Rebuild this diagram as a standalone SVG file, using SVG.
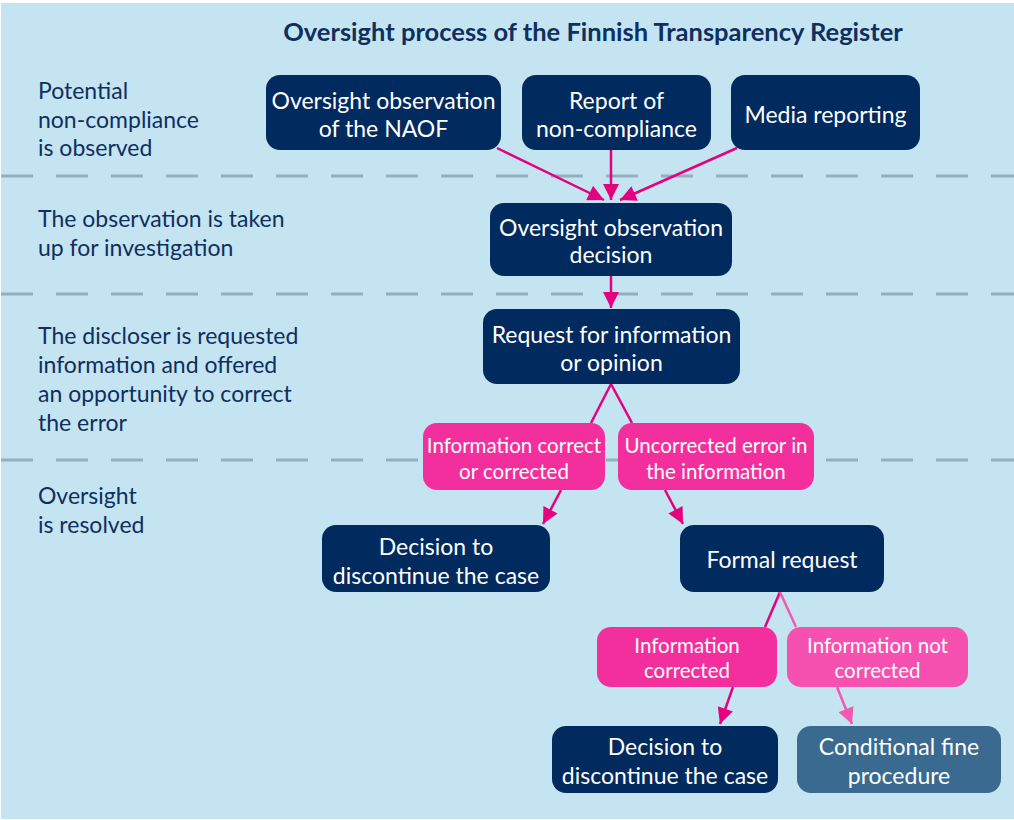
<svg xmlns="http://www.w3.org/2000/svg" width="1014" height="820" viewBox="0 0 1014 820">
  <defs>
    <style>
      .bg { fill: #c4e4f1; }
      .sep { stroke: #93aec0; stroke-width: 3; stroke-dasharray: 32 23; fill: none; }
      .title { font-family: Lato, "Liberation Sans", sans-serif; font-weight: bold; font-size: 25.5px; fill: #0f2f5e; }
      .phase { font-family: Lato, "Liberation Sans", sans-serif; font-size: 23px; fill: #0f2f5e; }
      .node rect { rx: 14; ry: 14; }
      .dark rect { fill: #012a5e; }
      .pink rect { fill: #f32f9e; }
      .pinklt rect { fill: #f650b0; }
      .steel rect { fill: #3a6a8f; }
      .node text { font-family: Lato, "Liberation Sans", sans-serif; font-size: 23px; fill: #ffffff; text-anchor: middle; }
      .node.lbl text { font-size: 20.5px; }
      .edge { stroke: #e5007d; stroke-width: 2.5; fill: none; }
      .edge.lt { stroke: #f05aaf; }
    </style>
    <marker id="arrow" viewBox="0 0 10 10" refX="10" refY="5" markerWidth="7" markerHeight="6.4" markerUnits="strokeWidth" orient="auto">
      <path d="M0,0 L10,5 L0,10 z" fill="#e5007d"/>
    </marker>
    <marker id="arrowLt" viewBox="0 0 10 10" refX="10" refY="5" markerWidth="7" markerHeight="6.4" markerUnits="strokeWidth" orient="auto">
      <path d="M0,0 L10,5 L0,10 z" fill="#f05aaf"/>
    </marker>
  </defs>

  <rect x="0" y="0" width="1014" height="820" fill="#ffffff"/>
  <rect class="bg" x="1" y="3" width="1013" height="816"/>

  <!-- phase separators -->
  <line class="sep" x1="1" y1="176" x2="1014" y2="176"/>
  <line class="sep" x1="1" y1="294" x2="1014" y2="294"/>
  <line class="sep" x1="1" y1="460" x2="1014" y2="460"/>

  <text class="title" x="593" y="41" text-anchor="middle">Oversight process of the Finnish Transparency Register</text>

  <!-- phase labels -->
  <g id="phases" class="phase">
    <text x="38" y="99">Potential</text>
    <text x="38" y="128">non-compliance</text>
    <text x="38" y="156">is observed</text>
    <text x="38" y="227">The observation is taken</text>
    <text x="38" y="256">up for investigation</text>
    <text x="38" y="344">The discloser is requested</text>
    <text x="38" y="373">information and offered</text>
    <text x="38" y="402">an opportunity to correct</text>
    <text x="38" y="431">the error</text>
    <text x="38" y="504">Oversight</text>
    <text x="38" y="533">is resolved</text>
  </g>

  <!-- connectors -->
  <g id="connectors">
    <line class="edge" x1="497" y1="148" x2="604" y2="200" marker-end="url(#arrow)"/>
    <line class="edge" x1="611" y1="150" x2="611" y2="200" marker-end="url(#arrow)"/>
    <line class="edge" x1="737" y1="148" x2="620" y2="200" marker-end="url(#arrow)"/>
    <line class="edge" x1="611" y1="276" x2="611" y2="308" marker-end="url(#arrow)"/>
    <line class="edge" x1="611" y1="384" x2="591" y2="423"/>
    <line class="edge" x1="611" y1="384" x2="632" y2="423"/>
    <line class="edge" x1="561" y1="490" x2="543" y2="524" marker-end="url(#arrow)"/>
    <line class="edge" x1="665" y1="490" x2="683" y2="524" marker-end="url(#arrow)"/>
    <line class="edge" x1="780" y1="592" x2="765" y2="627"/>
    <line class="edge lt" x1="780" y1="592" x2="796" y2="627"/>
    <line class="edge" x1="733" y1="687" x2="720" y2="724" marker-end="url(#arrow)"/>
    <line class="edge lt" x1="837" y1="687" x2="852" y2="724" marker-end="url(#arrowLt)"/>
  </g>

  <!-- nodes -->
  <g id="n-naof" class="node dark">
    <rect x="266" y="75" width="235" height="75"/>
    <text x="383.5" y="109">Oversight observation</text>
    <text x="383.5" y="137">of the NAOF</text>
  </g>
  <g id="n-report" class="node dark">
    <rect x="522" y="75" width="189" height="75"/>
    <text x="616.5" y="109">Report of</text>
    <text x="616.5" y="137">non-compliance</text>
  </g>
  <g id="n-media" class="node dark">
    <rect x="731" y="75" width="189" height="75"/>
    <text x="825.5" y="123">Media reporting</text>
  </g>
  <g id="n-decision" class="node dark">
    <rect x="490" y="203" width="242" height="73"/>
    <text x="611" y="236">Oversight observation</text>
    <text x="611" y="263">decision</text>
  </g>
  <g id="n-request" class="node dark">
    <rect x="483" y="309" width="257" height="75"/>
    <text x="611.5" y="343">Request for information</text>
    <text x="611.5" y="371">or opinion</text>
  </g>
  <g id="l-correct" class="node pink lbl">
    <rect x="423" y="423" width="182" height="67"/>
    <text x="514" y="453">Information correct</text>
    <text x="514" y="479">or corrected</text>
  </g>
  <g id="l-uncorrected" class="node pink lbl">
    <rect x="618" y="423" width="196" height="67"/>
    <text x="716" y="453">Uncorrected error in</text>
    <text x="716" y="479">the information</text>
  </g>
  <g id="n-discontinue1" class="node dark">
    <rect x="322" y="525" width="228" height="67"/>
    <text x="436" y="555">Decision to</text>
    <text x="436" y="584">discontinue the case</text>
  </g>
  <g id="n-formal" class="node dark">
    <rect x="680" y="525" width="204" height="67"/>
    <text x="782" y="568">Formal request</text>
  </g>
  <g id="l-corrected" class="node pink lbl">
    <rect x="597" y="627" width="180" height="60"/>
    <text x="687" y="653">Information</text>
    <text x="687" y="678">corrected</text>
  </g>
  <g id="l-notcorrected" class="node pinklt lbl">
    <rect x="787" y="627" width="181" height="60"/>
    <text x="877.5" y="653">Information not</text>
    <text x="877.5" y="678">corrected</text>
  </g>
  <g id="n-discontinue2" class="node dark">
    <rect x="552" y="726" width="226" height="67"/>
    <text x="665" y="755">Decision to</text>
    <text x="665" y="784">discontinue the case</text>
  </g>
  <g id="n-fine" class="node steel">
    <rect x="797" y="726" width="204" height="67"/>
    <text x="899" y="755">Conditional fine</text>
    <text x="899" y="784">procedure</text>
  </g>
</svg>
